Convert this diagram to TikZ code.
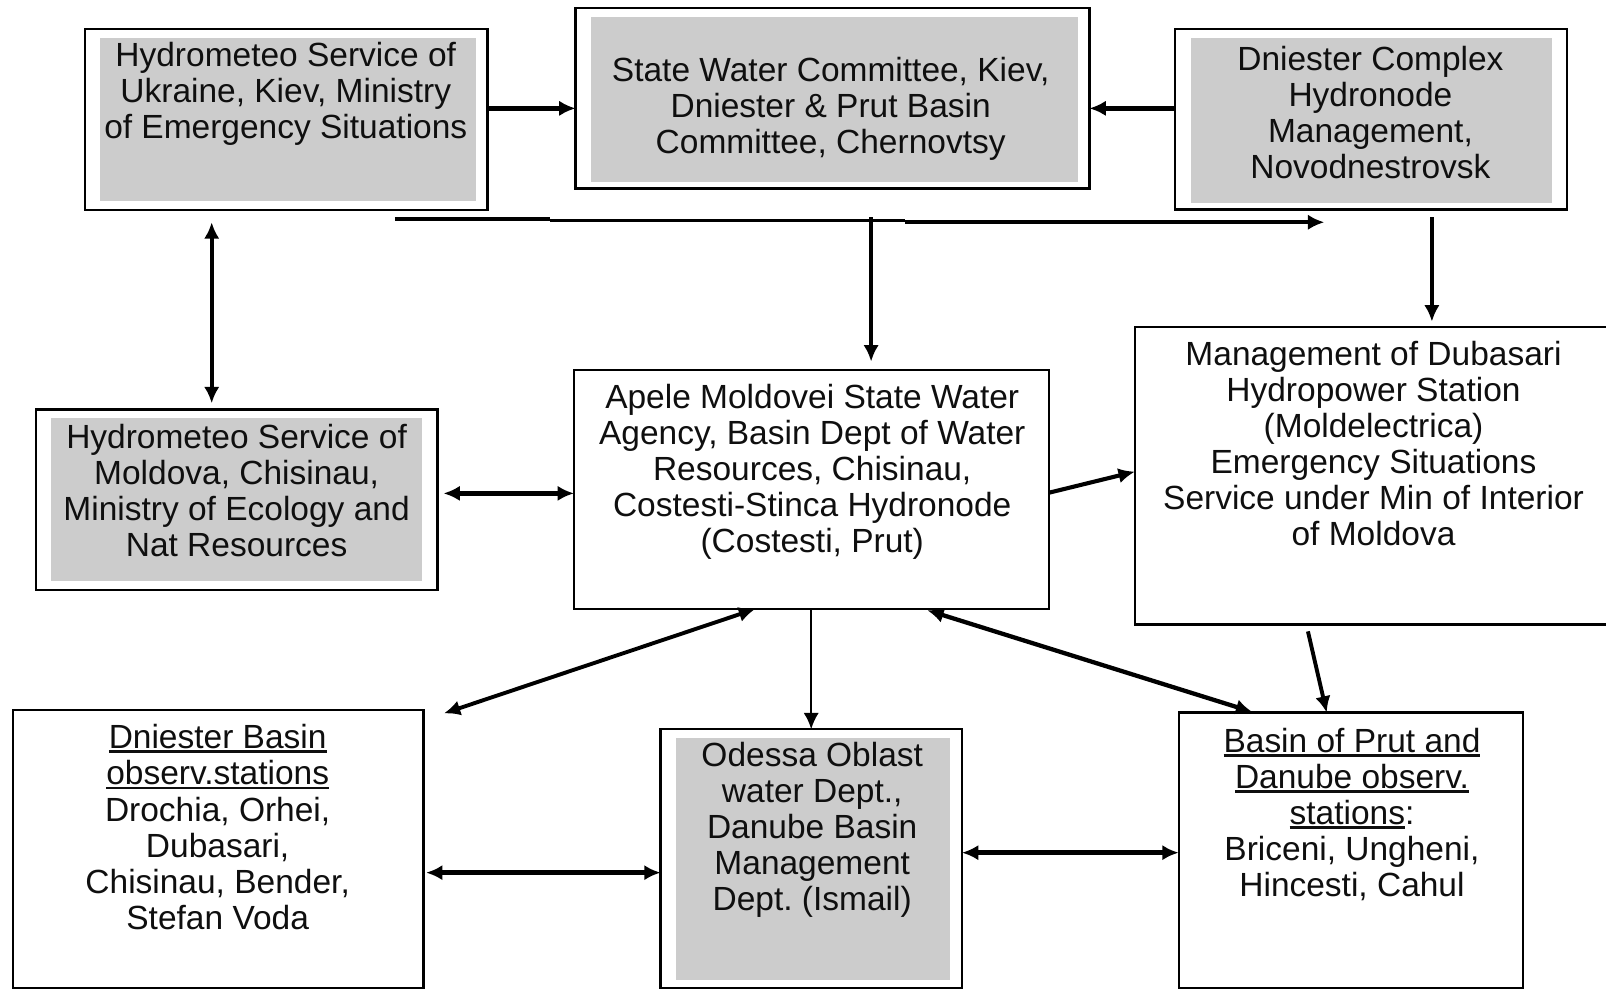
\documentclass[tikz,border=0pt]{standalone}
\usepackage{fontspec}
\setmainfont{Liberation Sans}
\usetikzlibrary{arrows.meta}
\definecolor{boxgrey}{RGB}{204,204,204}
\definecolor{txtcol}{RGB}{15,15,15}
\newsavebox\myulbox
\newcommand\myul[1]{\sbox\myulbox{#1}\rlap{\rule[-4.3pt]{\wd\myulbox}{2.8pt}}\usebox\myulbox}
\frenchspacing
\tikzset{
  box/.style={draw=black, line width=2.3pt, fill=white, inner sep=0pt, outer sep=0pt},
  gbox/.style={fill=boxgrey, draw=none, inner sep=0pt, outer sep=0pt},
  txt/.style={align=center, inner sep=0pt, outer sep=0pt, text=txtcol,
    font=\fontsize{32.7}{35.2}\selectfont},
  arr/.style={-{Latex[length=16pt,width=15pt]}, line width=4pt},
  darr/.style={{Latex[length=16pt,width=15pt]}-{Latex[length=16pt,width=15pt]}, line width=4pt},
}
\begin{document}
\begin{tikzpicture}[x=1pt,y=-1pt]
\frenchspacing
\useasboundingbox (0,0) rectangle (1568,966);
% boxes
\node[box, minimum width=393pt, minimum height=176.5pt] (A) at (279.5,116.75) {};
\node[gbox, minimum width=367pt, minimum height=159pt] (Ag) at (281.4,116.5) {};
\node[box, minimum width=501.6pt, minimum height=176.4pt] (B) at (812.8,95.7) {};
\node[gbox, minimum width=475pt, minimum height=161pt] (Bg) at (814.5,97) {};
\node[box, minimum width=382.7pt, minimum height=176pt] (C) at (1338.3,116.4) {};
\node[gbox, minimum width=352.6pt, minimum height=161pt] (Cg) at (1338.7,117.4) {};
\node[box, minimum width=392pt, minimum height=176.3pt] (D) at (231,487.9) {};
\node[gbox, minimum width=362.6pt, minimum height=159pt] (Dg) at (231.1,487.9) {};
\node[box, minimum width=464pt, minimum height=233.6pt] (E) at (792.4,477.8) {};
\node[box, minimum width=482pt, minimum height=290.6pt] (F) at (1349,464.3) {};
\node[box, minimum width=401pt, minimum height=271.3pt] (G) at (213,828.85) {};
\node[box, minimum width=294.2pt, minimum height=252.5pt] (H) at (792.1,838.25) {};
\node[gbox, minimum width=267.6pt, minimum height=235.9pt] (Hg) at (793.8,838.85) {};
\node[box, minimum width=336.2pt, minimum height=268.7pt] (I) at (1318.9,830.15) {};
% texts
\node[txt] (At) at (279,92) {Hydrometeo Service of\\Ukraine, Kiev, Ministry\\of Emergency Situations};
\node[txt] (Bt) at (811,106) {State Water Committee, Kiev,\\Dniester \& Prut Basin\\Committee, Chernovtsy};
\node[txt] (Ct) at (1338,110) {Dniester Complex\\Hydronode\\Management,\\Novodnestrovsk};
\node[txt] (Dt) at (231,478.6) {Hydrometeo Service of\\Moldova, Chisinau,\\Ministry of Ecology and\\Nat Resources};
\node[txt] (Et) at (793,461) {Apele Moldovei State Water\\Agency, Basin Dept of Water\\Resources, Chisinau,\\Costesti-Stinca Hydronode\\(Costesti, Prut)};
\node[txt] (Ft) at (1341,432.9) {Management of Dubasari\\Hydropower Station\\(Moldelectrica)\\Emergency Situations\\Service under Min of Interior\\of Moldova};
\node[txt] (Gt) at (212.5,807.5) {\myul{Dniester Basin}\\\myul{observ.stations}\\Drochia, Orhei,\\Dubasari,\\Chisinau, Bender,\\Stefan Voda};
\node[txt] (Ht) at (793,810) {Odessa Oblast\\water Dept.,\\Danube Basin\\Management\\Dept. (Ismail)};
\node[txt] (It) at (1320,795) {\myul{Basin of Prut and}\\\myul{Danube observ.}\\\myul{stations}:\\Briceni, Ungheni,\\Hincesti, Cahul};
% coordinates
\coordinate (yAB) at (0,105.8);
\coordinate (L1) at (385.6,214);
\coordinate (L2) at (537,214);
\coordinate (L3) at (537,215.5);
\coordinate (L4) at (884,215.5);
\coordinate (L5) at (884,217);
\coordinate (L6) at (1293,217);
\coordinate (V1) at (850.5,212);
\coordinate (V2) at (1398,212);
\coordinate (xAD) at (206.7,0);
\coordinate (yDE) at (0,481.7);
\coordinate (ef1) at (0,481);
\coordinate (ef2) at (0,460.5);
\coordinate (eg1) at (737.3,0);
\coordinate (eg2) at (433.4,696.5);
\coordinate (xEH) at (792,0);
\coordinate (ei1) at (901.5,0);
\coordinate (ei2) at (1225,0);
\coordinate (fi1) at (1275.4,0);
\coordinate (fi2) at (1295.3,0);
\coordinate (yGH) at (0,852);
\coordinate (yHI) at (0,832.5);
% connectors
\draw[arr, line width=4.3pt] (A.east |- yAB) -- (B.west |- yAB);
\draw[arr, line width=4.3pt] (C.west |- yAB) -- (B.east |- yAB);
\draw[line width=4.3pt] (L1) -- (L2);
\draw[line width=2.4pt] (L3) -- (L4);
\draw[arr, line width=4.3pt] (L5) -- (L6);
\draw[arr, line width=3.8pt, shorten >=8pt] (V1) -- (V1 |- E.north);
\draw[arr, line width=3.2pt, shorten >=5pt] (V2) -- (V2 |- F.north);
\draw[darr, line width=4pt, shorten <=12pt, shorten >=6pt] (xAD |- A.south) -- (xAD |- D.north);
\draw[darr, line width=4.3pt, shorten <=6pt] (D.east |- yDE) -- (E.west |- yDE);
\draw[arr, line width=4pt] (E.east |- ef1) -- (F.west |- ef2);
\draw[darr, line width=3.8pt] (eg1 |- E.south) -- (eg2);
\draw[arr, line width=2.4pt] (xEH |- E.south) -- (xEH |- H.north);
\draw[darr, line width=4.2pt, shorten <=4pt, shorten >=2.5pt] (ei1 |- E.south) -- (ei2 |- I.north);
\draw[arr, line width=3.8pt, shorten <=7pt] (fi1 |- F.south) -- (fi2 |- I.north);
\draw[darr, line width=4.3pt, shorten <=2.5pt] (G.east |- yGH) -- (H.west |- yGH);
\draw[darr, line width=4.3pt] (H.east |- yHI) -- (I.west |- yHI);
\end{tikzpicture}
\end{document}
